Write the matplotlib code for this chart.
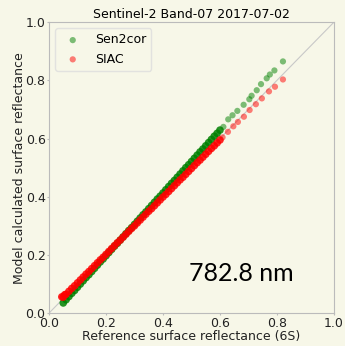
import matplotlib
matplotlib.use("Agg")
import matplotlib.pyplot as plt

# reflectance pairs (x = 6S reference, y = model)
# dense part of the cloud (x <= 0.60), traced along the band
sen2cor_x = [0.05, 0.06, 0.07, 0.08, 0.09, 0.10, 0.11, 0.12, 0.13, 0.14,
             0.15, 0.16, 0.17, 0.18, 0.19, 0.20, 0.21, 0.22, 0.23, 0.24,
             0.25, 0.26, 0.27, 0.28, 0.29, 0.30, 0.31, 0.32, 0.33, 0.34,
             0.35, 0.36, 0.37, 0.38, 0.39, 0.40, 0.41, 0.42, 0.43, 0.44,
             0.45, 0.46, 0.47, 0.48, 0.49, 0.50, 0.51, 0.52, 0.53, 0.54,
             0.55, 0.56, 0.57, 0.58, 0.59, 0.60]
sen2cor_y = [0.035, 0.046, 0.057, 0.068, 0.078, 0.089, 0.100, 0.111, 0.122, 0.132,
             0.143, 0.154, 0.165, 0.176, 0.186, 0.197, 0.208, 0.219, 0.230, 0.240,
             0.251, 0.262, 0.273, 0.284, 0.294, 0.305, 0.316, 0.327, 0.338, 0.348,
             0.359, 0.370, 0.381, 0.392, 0.402, 0.413, 0.424, 0.435, 0.446, 0.456,
             0.467, 0.478, 0.489, 0.500, 0.510, 0.521, 0.532, 0.543, 0.554, 0.564,
             0.575, 0.586, 0.597, 0.608, 0.618, 0.629]
# sparse tail
sen2cor_tail_x = [0.612, 0.629, 0.644, 0.661, 0.683, 0.703, 0.711, 0.729, 0.744,
                  0.764, 0.775, 0.791, 0.821]
sen2cor_tail_y = [0.640, 0.666, 0.680, 0.695, 0.716, 0.735, 0.747, 0.766, 0.787,
                  0.807, 0.820, 0.834, 0.865]

siac_x = [0.045, 0.05, 0.055, 0.06, 0.07, 0.08, 0.09, 0.10, 0.11, 0.12, 0.13, 0.14,
          0.15, 0.16, 0.17, 0.18, 0.19, 0.20, 0.21, 0.22, 0.23, 0.24,
          0.25, 0.26, 0.27, 0.28, 0.29, 0.30, 0.31, 0.32, 0.33, 0.34,
          0.35, 0.36, 0.37, 0.38, 0.39, 0.40, 0.41, 0.42, 0.43, 0.44,
          0.45, 0.46, 0.47, 0.48, 0.49, 0.50, 0.51, 0.52, 0.53, 0.54,
          0.55, 0.56, 0.57, 0.58, 0.59, 0.60]
siac_y = [0.056, 0.055, 0.063, 0.065, 0.075, 0.085, 0.094, 0.104, 0.114, 0.124, 0.134, 0.143,
          0.153, 0.163, 0.173, 0.183, 0.192, 0.202, 0.212, 0.222, 0.232, 0.242,
          0.251, 0.261, 0.271, 0.281, 0.291, 0.300, 0.310, 0.320, 0.330, 0.340,
          0.350, 0.359, 0.369, 0.379, 0.389, 0.399, 0.408, 0.418, 0.428, 0.438,
          0.448, 0.458, 0.467, 0.477, 0.487, 0.497, 0.507, 0.517, 0.526, 0.536,
          0.546, 0.556, 0.566, 0.575, 0.585, 0.595]
siac_tail_x = [0.609, 0.628, 0.647, 0.663, 0.684, 0.704, 0.726, 0.747, 0.772,
               0.793, 0.821]
siac_tail_y = [0.604, 0.623, 0.642, 0.657, 0.675, 0.698, 0.718, 0.738, 0.762,
               0.778, 0.803]

ticks = [0.0, 0.2, 0.4, 0.6, 0.8, 1.0]
bg = "#f7f7e8"

fig = plt.figure(figsize=(3.45, 3.46), dpi=100, facecolor=bg)
ax = fig.add_axes([0.142, 0.095, 0.826, 0.841], facecolor=bg)

ax.plot([0, 1], [0, 1], color="#c8c8c8", lw=0.8, zorder=1)
ax.scatter(sen2cor_x, sen2cor_y, s=30, color="green", alpha=0.85,
           edgecolors="none", zorder=2)
ax.scatter(sen2cor_tail_x, sen2cor_tail_y, s=20, color="green", alpha=0.5,
           edgecolors="none", label="Sen2cor", zorder=2)
ax.scatter(siac_x, siac_y, s=30, color="red", alpha=0.85,
           edgecolors="none", zorder=3)
ax.scatter(siac_tail_x, siac_tail_y, s=20, color="red", alpha=0.5,
           edgecolors="none", label="SIAC", zorder=3)

ax.set_xlim(0, 1)
ax.set_ylim(0, 1)
ax.set_xticks(ticks)
ax.set_yticks(ticks)
ax.tick_params(labelsize=9, colors="#222222", length=1.5, pad=1, color="#bbbbbb")
for sp in ax.spines.values():
    sp.set_color("#bbbbbb")

ax.set_title("Sentinel-2 Band-07 2017-07-02", fontsize=9, pad=3)
ax.set_xlabel("Reference surface reflectance (6S)", fontsize=9, labelpad=0, color="#222222")
ax.set_ylabel("Model calculated surface reflectance", fontsize=9, labelpad=0, color="#222222")
ax.text(0.49, 0.11, "782.8 nm", fontsize=18, family="Lato", transform=ax.transData)

leg = ax.legend(loc="upper left", fontsize=9, frameon=True, facecolor=bg,
                edgecolor="#dddddd", handletextpad=0.8)

fig.savefig("out.png", dpi=100, facecolor=bg)
